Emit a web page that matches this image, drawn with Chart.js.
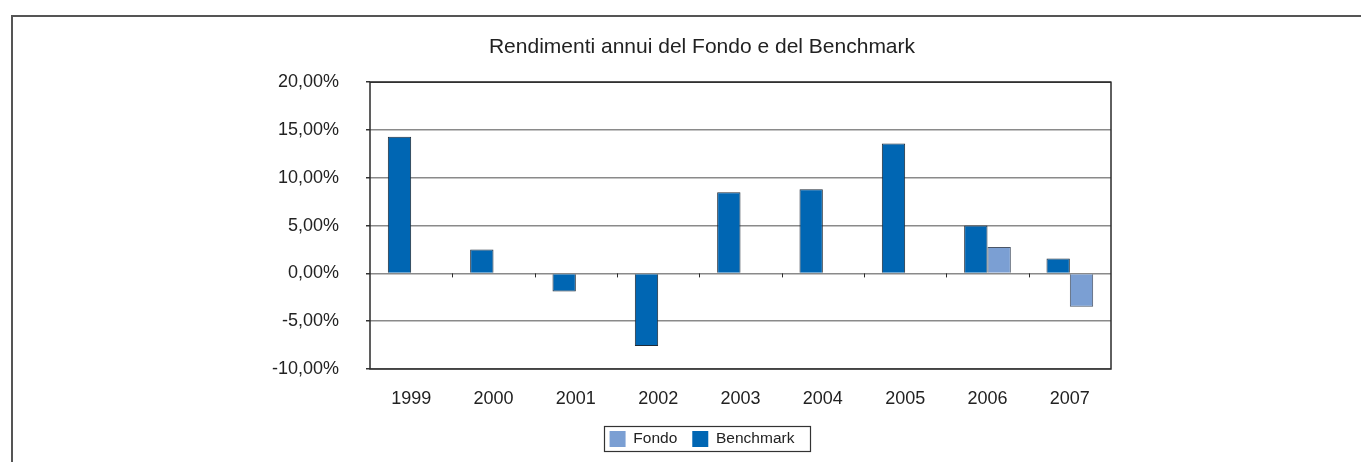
<!DOCTYPE html>
<html>
<head>
<meta charset="utf-8">
<script src="https://cdn.jsdelivr.net/npm/chart.js@4/dist/chart.umd.min.js"></script>
<style>
  html, body { margin: 0; padding: 0; background: #ffffff; overflow: hidden; }
  #wrap { position: relative; width: 1361px; height: 462px; }
  #frame { position: absolute; left: 11px; top: 15px; width: 2000px; height: 2000px;
           border-left: 2px solid #555; border-top: 2px solid #555; pointer-events: none; }
  canvas { position: absolute; left: 0; top: 0; }
</style>
</head>
<body>
<div id="wrap">
  <canvas id="c" width="1361" height="462"></canvas>
  <div id="frame"></div>
</div>
<script>
const chartTitle = 'Rendimenti annui del Fondo e del Benchmark';
const categories = ['1999', '2000', '2001', '2002', '2003', '2004', '2005', '2006', '2007'];
const benchmarkValues = [14.3, 2.5, -1.9, -7.6, 8.5, 8.8, 13.6, 5.0, 1.55];
const fondoValues = [null, null, null, null, null, null, null, 2.75, -3.5];
const yTicks = [-10, -5, 0, 5, 10, 15, 20];

const FONT = '"Liberation Sans", Arial, Helvetica, sans-serif';

const framePlugin = {
  id: 'framePlugin',
  afterDraw(chart) {
    const ctx = chart.ctx;
    const a = chart.chartArea;
    const xs = chart.scales.x, ys = chart.scales.y;
    ctx.save();
    // plot area border
    ctx.strokeStyle = '#2b2b2b';
    ctx.lineWidth = 1.5;
    ctx.strokeRect(a.left, a.top, a.right - a.left, a.bottom - a.top);
    // category tick marks on the zero line
    const y0 = ys.getPixelForValue(0);
    ctx.lineWidth = 1;
    ctx.beginPath();
    for (let i = 1; i < categories.length; i++) {
      const x = Math.round((xs.getPixelForValue(i - 1) + xs.getPixelForValue(i)) / 2) + 0.5;
      ctx.moveTo(x, y0);
      ctx.lineTo(x, y0 + 4);
    }
    ctx.stroke();
    // legend border
    const lg = chart.legend;
    if (lg && lg.legendHitBoxes && lg.legendHitBoxes.length) {
      let l = Infinity, r = -Infinity, t = Infinity, b = -Infinity;
      lg.legendHitBoxes.forEach(h => {
        l = Math.min(l, h.left); r = Math.max(r, h.left + h.width);
        t = Math.min(t, h.top); b = Math.max(b, h.top + h.height);
      });
      ctx.strokeStyle = '#333';
      ctx.lineWidth = 1.2;
      ctx.strokeRect(Math.round(l - 6) + 0.5, Math.round(t - 5) + 0.5, Math.round(r - l + 21), Math.round(b - t + 9));
    }
    ctx.restore();
  }
};

new Chart(document.getElementById('c'), {
  type: 'bar',
  data: {
    labels: categories,
    datasets: [
      {
        label: 'Benchmark',
        data: benchmarkValues,
        backgroundColor: '#0066b3',
        borderColor: '#1f2a36',
        borderWidth: 1,
        categoryPercentage: 0.567,
        barPercentage: 1.0
      },
      {
        label: 'Fondo',
        data: fondoValues,
        backgroundColor: '#7b9fd3',
        borderColor: '#4a5566',
        borderWidth: 1,
        categoryPercentage: 0.567,
        barPercentage: 1.0
      }
    ]
  },
  options: {
    responsive: false,
    animation: false,
    devicePixelRatio: 1,
    layout: { padding: { left: 43, right: 0, top: 16, bottom: 5 } },
    plugins: {
      title: {
        display: true,
        text: chartTitle,
        color: '#222',
        font: { family: FONT, size: 21, weight: 'normal', lineHeight: 1.2 },
        padding: { top: 19, bottom: 22 }
      },
      legend: {
        display: true,
        position: 'bottom',
        reverse: true,
        labels: {
          color: '#222',
          font: { family: FONT, size: 15.5 },
          boxWidth: 16,
          boxHeight: 16,
          padding: 15,
          generateLabels(chart) {
            return chart.data.datasets.map((ds, i) => ({
              text: ds.label,
              fillStyle: ds.backgroundColor,
              strokeStyle: ds.backgroundColor,
              lineWidth: 0,
              hidden: false,
              datasetIndex: i,
              fontColor: '#222'
            }));
          }
        }
      },
      tooltip: { enabled: false }
    },
    scales: {
      x: {
        grid: { display: false, drawTicks: false },
        border: { display: false },
        ticks: { color: '#222', font: { family: FONT, size: 18 }, padding: 19, maxRotation: 0 },
        afterFit(scale) { scale.height = 47; }
      },
      y: {
        min: -10,
        max: 20,
        afterBuildTicks(scale) { scale.ticks = yTicks.map(v => ({ value: v })); },
        grid: { color: '#8a8a8a', lineWidth: 1.5, drawTicks: true, tickLength: 4, tickColor: '#333' },
        border: { display: false },
        ticks: {
          color: '#222',
          font: { family: FONT, size: 18 },
          padding: 27,
          callback: v => v.toFixed(2).replace('.', ',') + '%'
        },
        afterFit(scale) { scale.width = 327; }
      },
      yRight: {
        type: 'linear',
        position: 'right',
        display: true,
        min: 0,
        max: 1,
        grid: { display: false, drawTicks: false },
        border: { display: false },
        ticks: { display: false },
        afterFit(scale) { scale.width = 250; }
      }
    }
  },
  plugins: [framePlugin]
});
</script>
</body>
</html>
